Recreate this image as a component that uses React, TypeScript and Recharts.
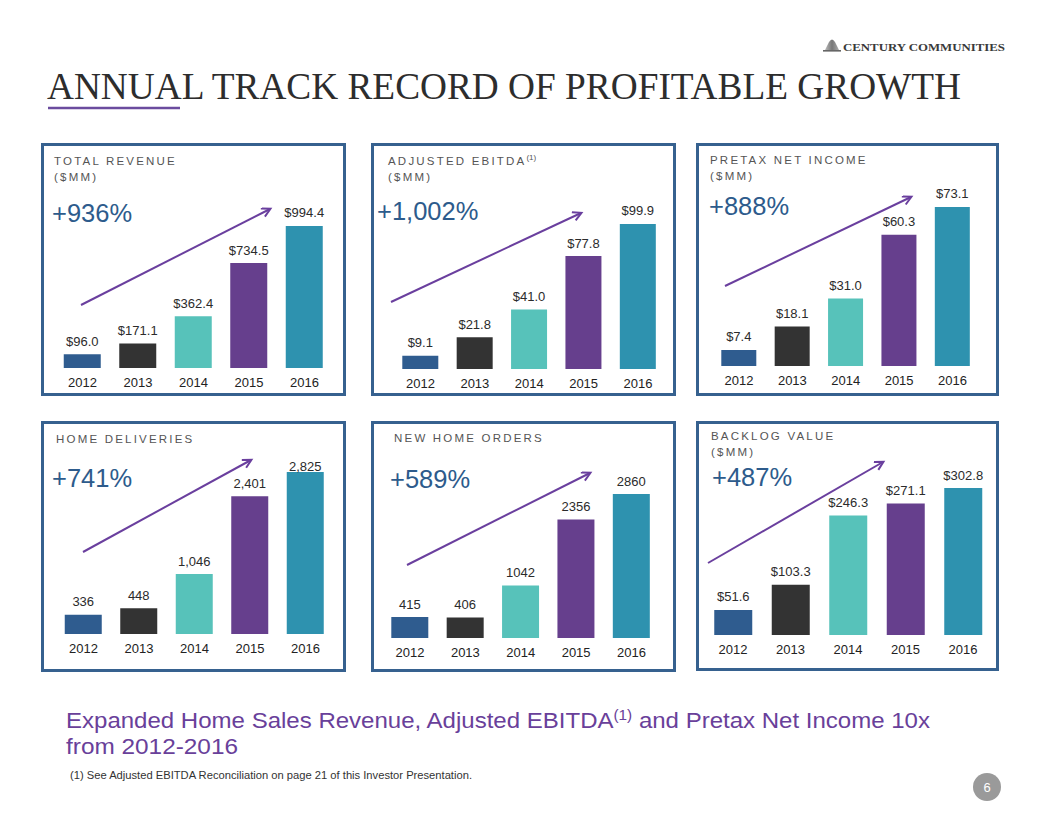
import React from "react";
import { BarChart, Bar, XAxis, YAxis, Cell, LabelList } from "recharts";

const YEARS = ["2012", "2013", "2014", "2015", "2016"];
const REVENUE = [96.0, 171.1, 362.4, 734.5, 994.4];
const EBITDA = [9.1, 21.8, 41.0, 77.8, 99.9];
const PRETAX = [7.4, 18.1, 31.0, 60.3, 73.1];
const DELIVERIES = [336, 448, 1046, 2401, 2825];
const ORDERS = [415, 406, 1042, 2356, 2860];
const BACKLOG = [51.6, 103.3, 246.3, 271.1, 302.8];

const BAR_COLORS = ["#2F5C8F", "#333333", "#57C2BA", "#663F8D", "#2E92AF"];
const SANS = "'Liberation Sans', Arial, sans-serif";
const NARROW = "'Liberation Sans Narrow', 'Liberation Sans', Arial, sans-serif";
const SERIF = "'Liberation Serif', 'Times New Roman', serif";
const BORDER = "#36618F";
const PCT_COLOR = "#2D5B8C";
const ARROW = "#6A3F9E";

const money = (v: number) => `$${v.toFixed(1)}`;
const comma = (v: number) => v.toLocaleString("en-US");
const plain = (v: number) => String(v);

type PanelProps = {
  box: [number, number, number, number];
  plot: { left: number; right: number; top: number; bottom: number };
  yMax: number;
  values: number[];
  fmt: (v: number) => string;
  barSize: number;
  labelFloor?: number;
};

const AXIS_H = 20;

function Panel({ box, plot, yMax, values, fmt, barSize, labelFloor }: PanelProps) {
  const [bx, by, bw, bh] = box;
  const data = YEARS.map((year, i) => ({ year, value: values[i] }));
  const margin = {
    top: plot.top - by,
    bottom: by + bh - plot.bottom - AXIS_H,
    left: plot.left - bx,
    right: bx + bw - plot.right,
  };
  const floor = labelFloor !== undefined ? labelFloor - by : -Infinity;

  const renderLabel = (props: any) => {
    const { x, y, width, value } = props;
    const ty = Math.max(Number(y) - 8.5, floor);
    return (
      <text
        x={Number(x) + Number(width) / 2}
        y={ty}
        textAnchor="middle"
        fontSize={13}
        fontFamily={SANS}
        fill="#2b2b2b"
      >
        {fmt(Number(value))}
      </text>
    );
  };

  return (
    <div style={{ position: "absolute", left: bx, top: by }}>
      <BarChart width={bw} height={bh} data={data} margin={margin}>
        <XAxis
          dataKey="year"
          height={AXIS_H}
          axisLine={false}
          tickLine={false}
          tickSize={0}
          tickMargin={10}
          interval={0}
          tick={{ fontSize: 13, fill: "#222", fontFamily: SANS }}
        />
        <YAxis hide domain={[0, yMax]} />
        <Bar dataKey="value" barSize={barSize} isAnimationActive={false}>
          {data.map((_, i) => (
            <Cell key={`c-${i}`} fill={BAR_COLORS[i]} />
          ))}
          <LabelList dataKey="value" content={renderLabel} />
        </Bar>
      </BarChart>
    </div>
  );
}

const BOXES: [number, number, number, number][] = [
  [41, 143, 305, 253],
  [371, 143, 305, 253],
  [696, 143, 303, 253],
  [41, 421, 305, 251],
  [371, 421, 305, 251],
  [696, 421, 303, 250],
];

const ARROWS = [
  [81, 305, 270, 209],
  [391, 302, 581, 213],
  [725, 286, 911, 197],
  [83, 552, 251, 460],
  [407, 565, 590, 473],
  [708, 563, 883, 462],
];

function Caps({ x, y, children }: { x: number; y: number; children: React.ReactNode }) {
  return (
    <text x={x} y={y} fontSize={11.5} letterSpacing={2.2} fill="#555" fontFamily={SANS}>
      {children}
    </text>
  );
}

function Pct({ x, y, children }: { x: number; y: number; children: React.ReactNode }) {
  return (
    <text x={x} y={y} fontSize={25.5} fill={PCT_COLOR} fontFamily={SANS}>
      {children}
    </text>
  );
}

export default function App() {
  return (
    <div
      style={{
        position: "absolute",
        left: 0,
        top: 0,
        width: 1056,
        height: 816,
        background: "#fff",
        overflow: "hidden",
        fontFamily: SANS,
      }}
    >
      <Panel box={BOXES[0]} plot={{ left: 54.75, right: 332.25, top: 200, bottom: 368 }} yMax={1176} values={REVENUE} fmt={money} barSize={37} />
      <Panel box={BOXES[1]} plot={{ left: 393.3, right: 665.2, top: 200, bottom: 369 }} yMax={116.4} values={EBITDA} fmt={money} barSize={36} />
      <Panel box={BOXES[2]} plot={{ left: 712.3, right: 979.2, top: 190, bottom: 366 }} yMax={80.9} values={PRETAX} fmt={money} barSize={35} />
      <Panel box={BOXES[3]} plot={{ left: 55.75, right: 333.25, top: 460, bottom: 634 }} yMax={3034} values={DELIVERIES} fmt={comma} barSize={37} labelFloor={471} />
      <Panel box={BOXES[4]} plot={{ left: 382.3, right: 659.2, top: 470, bottom: 638 }} yMax={3337} values={ORDERS} fmt={plain} barSize={37} />
      <Panel box={BOXES[5]} plot={{ left: 704.25, right: 991.75, top: 470, bottom: 635 }} yMax={340} values={BACKLOG} fmt={money} barSize={38} />

      <svg
        width={1056}
        height={816}
        style={{ position: "absolute", left: 0, top: 0, pointerEvents: "none" }}
      >
        <defs>
          <marker id="head" markerWidth={12} markerHeight={12} refX={9} refY={5} orient="auto" markerUnits="userSpaceOnUse">
            <path d="M1,0.5 L9.5,5 L1,9.5" fill="none" stroke={ARROW} strokeWidth={2} />
          </marker>
          <linearGradient id="logoGrad" x1="0" y1="0" x2="1" y2="0">
            <stop offset="0" stopColor="#bbb" />
            <stop offset="0.5" stopColor="#777" />
            <stop offset="1" stopColor="#aaa" />
          </linearGradient>
        </defs>

        {/* logo */}
        <path d="M825,50 L829,42 Q832,37 835,42 L839,50 Z" fill="url(#logoGrad)" />
        <rect x={823} y={50} width={18} height={1.6} fill="#666" />
        <text x={843} y={51} fontSize={11} fontWeight="bold" fill="#3a3a3a" fontFamily={SERIF} textLength={162} lengthAdjust="spacingAndGlyphs">
          CENTURY COMMUNITIES
        </text>

        {/* title */}
        <text x={47} y={99} fontSize={37} fill="#2d2d2d" fontFamily={SERIF} textLength={914} lengthAdjust="spacingAndGlyphs">
          ANNUAL TRACK RECORD OF PROFITABLE GROWTH
        </text>
        <line x1={48} y1={108} x2={180} y2={108} stroke="#6B4C9E" strokeWidth={2.5} />

        {/* panel frames */}
        {BOXES.map(([x, y, w, h], i) => (
          <rect key={`b-${i}`} x={x + 1.5} y={y + 1.5} width={w - 3} height={h - 3} fill="none" stroke={BORDER} strokeWidth={3} />
        ))}

        {/* panel headings */}
        <Caps x={54} y={165}>TOTAL REVENUE</Caps>
        <Caps x={54} y={181}>($MM)</Caps>
        <Caps x={388} y={165}>
          ADJUSTED EBITDA
          <tspan fontSize={8} letterSpacing={0} dy={-5}>(1)</tspan>
        </Caps>
        <Caps x={388} y={181}>($MM)</Caps>
        <Caps x={710} y={164}>PRETAX NET INCOME</Caps>
        <Caps x={710} y={180}>($MM)</Caps>
        <Caps x={56} y={443}>HOME DELIVERIES</Caps>
        <Caps x={394} y={442}>NEW HOME ORDERS</Caps>
        <Caps x={711} y={440}>BACKLOG VALUE</Caps>
        <Caps x={711} y={456}>($MM)</Caps>

        <Pct x={52} y={222}>+936%</Pct>
        <Pct x={377} y={220}>+1,002%</Pct>
        <Pct x={709} y={215}>+888%</Pct>
        <Pct x={52} y={487}>+741%</Pct>
        <Pct x={390} y={488}>+589%</Pct>
        <Pct x={712} y={486}>+487%</Pct>

        {ARROWS.map(([x1, y1, x2, y2], i) => (
          <line key={`a-${i}`} x1={x1} y1={y1} x2={x2} y2={y2} stroke={ARROW} strokeWidth={2} markerEnd="url(#head)" />
        ))}

        {/* takeaway */}
        <text x={66} y={728} fontSize={22} fill="#69409A" fontFamily={NARROW} textLength={864} lengthAdjust="spacingAndGlyphs">
          Expanded Home Sales Revenue, Adjusted EBITDA
          <tspan fontSize={14} dy={-8}>(1)</tspan>
          <tspan dy={8}> and Pretax Net Income 10x</tspan>
        </text>
        <text x={66} y={754} fontSize={22} fill="#69409A" fontFamily={NARROW} textLength={172} lengthAdjust="spacingAndGlyphs">
          from 2012-2016
        </text>
        <text x={70} y={779} fontSize={10} fill="#333" fontFamily={NARROW} textLength={402} lengthAdjust="spacingAndGlyphs">
          (1)  See Adjusted EBITDA Reconciliation on page 21 of this Investor Presentation.
        </text>

        <circle cx={987} cy={787} r={14} fill="#9a9a9a" />
        <text x={987} y={792} textAnchor="middle" fontSize={13} fill="#fff" fontFamily={SANS}>
          6
        </text>
      </svg>
    </div>
  );
}
